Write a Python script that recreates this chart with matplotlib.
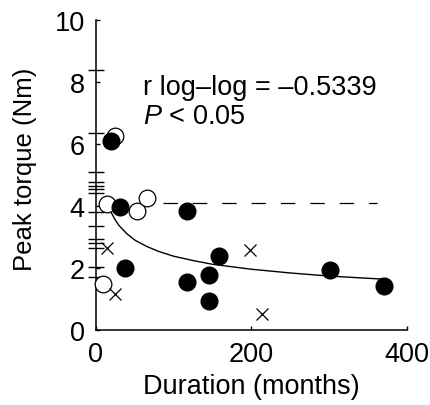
import numpy as np
import matplotlib as mpl
import matplotlib.pyplot as plt

# MPL settings.
mpl.rcParams['font.family'] = 'Liberation Sans'
mpl.rcParams['mathtext.fontset'] = 'custom'
mpl.rcParams['mathtext.rm'] = 'Liberation Sans'
mpl.rcParams['mathtext.it'] = 'Liberation Sans:italic'

font_size = 19.5

# Data (duration in months, peak torque in Nm)
filled_x = [19, 31, 117, 37, 117, 145, 145, 158, 301, 371]
filled_y = [6.1, 3.97, 3.84, 1.99, 1.56, 1.77, 0.95, 2.38, 1.95, 1.41]

open_x = [24, 14, 53, 66, 9]
open_y = [6.27, 4.06, 3.85, 4.26, 1.48]

cross_x = [14, 24, 198, 214]
cross_y = [2.65, 1.16, 2.58, 0.52]

# rug of values marked on the y axis
rug_y = [8.39, 6.35, 5.11, 4.78, 4.65, 4.55, 4.41, 3.8, 3.35, 2.95, 2.82, 2.64, 2.03, 1.72]

# log-log fit line
fit_x = [17, 20, 25, 30, 40, 50, 65, 80, 100, 125, 150, 200, 250, 300, 370]
fit_y = [3.95, 3.77, 3.54, 3.36, 3.10, 2.90, 2.70, 2.54, 2.38, 2.24, 2.12, 1.96, 1.84, 1.74, 1.64]

ref_level = 4.1
ref_range = [86, 361]

fig = plt.figure(figsize=(4.31, 4.06), dpi=100)
ax = fig.add_axes([0.2227, 0.1847, 0.7216, 0.7635])

ax.hlines(rug_y, -10, 10, colors="black", linewidth=1, clip_on=False, zorder=2)

ax.plot(ref_range, [ref_level, ref_level], color="black", linewidth=0.9,
        dashes=(11.5, 12), zorder=1)

ax.plot(fit_x, fit_y, color="black", linewidth=1, zorder=3)

ax.plot(open_x, open_y, "o", markersize=12, markerfacecolor="white",
        markeredgecolor="black", markeredgewidth=0.9, clip_on=False, zorder=4)
ax.plot(filled_x, filled_y, "o", markersize=12, color="black", clip_on=False, zorder=5)
ax.plot(cross_x, cross_y, "x", markersize=9, color="black", markeredgewidth=0.9,
        clip_on=False, zorder=6)

ax.text(61, 7.85, "r log\u2013log = \u20130.5339", fontsize=font_size, va="center")
ax.text(61, 6.9, r"$P$ < 0.05", fontsize=font_size, va="center")

ax.set_xlim(0, 400)
ax.set_ylim(0, 10)
ax.set_xticks([0, 200, 400])
ax.set_yticks([0, 2, 4, 6, 8, 10])
ax.tick_params(direction="in", length=3, width=1, labelsize=font_size, pad=8)

for side in ["top", "right"]:
  ax.spines[side].set_visible(False)
for side in ["left", "bottom"]:
  ax.spines[side].set_linewidth(1.1)

ax.set_xlabel("Duration (months)", fontsize=font_size)
ax.set_ylabel("Peak torque (Nm)", fontsize=18.5)
ax.yaxis.set_label_coords(-0.19, 0.523)
ax.xaxis.set_label_coords(0.5, -0.14)

fig.savefig("out.png", dpi=100)
